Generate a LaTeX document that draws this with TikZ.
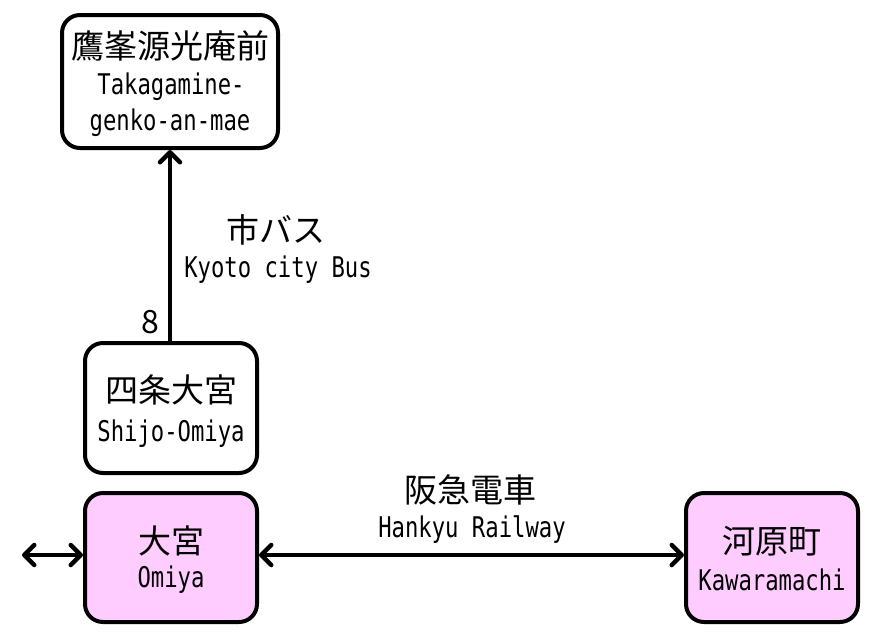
\documentclass[tikz,border=0pt]{standalone}
\usepackage{fontspec}
\usetikzlibrary{arrows.meta}
\newfontfamily\jp{Noto Sans CJK JP}
\newfontfamily\lat[FakeStretch=0.78]{DejaVu Sans Mono}
\definecolor{pinkfill}{HTML}{FFCCFF}
\tikzset{
  station/.style={draw=black, line width=4pt, rounded corners=18pt, fill=white,
    minimum width=#1, inner sep=0pt},
  station/.default=172pt,
  jtext/.style={font=\jp\fontsize{33pt}{36pt}\selectfont, inner sep=0pt},
  ltext/.style={font=\lat\fontsize{28.5pt}{31pt}\selectfont, inner sep=0pt},
  conn/.style={line width=4.5pt, line cap=round},
  barb/.tip={Straight Barb[length=10pt,width=20pt,line width=4.5pt, round]}
}
\begin{document}
\begin{tikzpicture}[x=1pt,y=-1pt]
\useasboundingbox (0,0) rectangle (881,641);
% boxes
\node[station, minimum width=216pt, minimum height=133pt] (top) at (170,81.5) {};
\node[station, minimum height=130pt] (shijo) at (171,408) {};
\node[station, fill=pinkfill, minimum height=129pt] (omiya) at (171,557.5) {};
\node[station, fill=pinkfill, minimum height=129pt] (kawa) at (772,557.5) {};
% texts
\node[jtext] (t1) at (170,46) {鷹峯源光庵前};
\node[ltext] (t2) at (171,87) {Takagamine-};
\node[ltext] (t3) at (170,123) {genko-an-mae};
\node[jtext] (s1) at (171,390) {四条大宮};
\node[ltext] (s2) at (171,434) {Shijo-Omiya};
\node[jtext] (o1) at (171,541) {大宮};
\node[ltext] (o2) at (171,580) {Omiya};
\node[jtext] (k1) at (772,541) {河原町};
\node[ltext] (k2) at (772,580) {Kawaramachi};
\node[jtext] (bus1) at (276,230) {市バス};
\node[ltext] (bus2) at (278,270) {Kyoto city Bus};
\node[jtext] (hk1) at (470,490) {阪急電車};
\node[ltext] (hk2) at (472,530) {Hankyu Railway};
\node[font=\jp\fontsize{32pt}{34pt}\selectfont, inner sep=0pt] (eight) at (150,322) {8};
% connectors
\coordinate (west) at (22,555);
\draw[conn, -barb] (shijo.north -| 170,0) -- (top.south -| 170,0);
\draw[conn, barb-barb] (omiya.east |- 0,555) -- (kawa.west |- 0,555);
\draw[conn, barb-barb] (west) -- (omiya.west |- 0,555);
\end{tikzpicture}
\end{document}
